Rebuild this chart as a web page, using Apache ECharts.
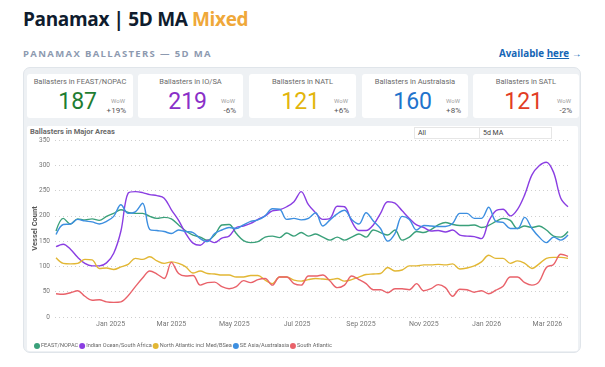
<!DOCTYPE html>
<html><head><meta charset="utf-8">
<script src="https://cdn.jsdelivr.net/npm/echarts@6/dist/echarts.min.js"></script>
<style>
html,body{margin:0;padding:0;}
body{width:605px;height:367px;background:#fff;position:relative;overflow:hidden;font-family:Roboto,"Open Sans",sans-serif;}
.abs{position:absolute;}
#title{left:23px;top:6px;font-family:"Open Sans";font-weight:700;font-size:19px;color:#0f1c2e;letter-spacing:-0.35px;white-space:nowrap;}
#title .mx{color:#efa83a;}
#sub{left:23px;top:47px;font-family:"Open Sans";font-weight:700;font-size:9.5px;color:#8d9ab0;letter-spacing:1.35px;white-space:nowrap;}
#link{left:499px;top:47px;font-family:"Open Sans";font-weight:700;font-size:9.8px;color:#1565b5;white-space:nowrap;}
#link u{text-decoration:underline;}
#panel{left:23px;top:67px;width:558px;height:286px;background:#eef1f4;border:1px solid #e0e5ea;border-radius:7px;box-sizing:border-box;}
.card{position:absolute;top:74px;height:44px;background:#fff;border-radius:3px;}
.card .lab{position:absolute;left:0;right:0;top:3px;text-align:center;font-size:7.5px;color:#6a6a6a;}
.card .val{position:absolute;right:36px;top:14px;font-size:23px;line-height:28px;font-family:Roboto;}
.card .wow{position:absolute;right:8px;top:23px;width:24px;text-align:right;font-size:6px;color:#a0a0a0;}
.card .pct{position:absolute;right:7px;top:32px;width:30px;text-align:right;font-size:8px;color:#555;}
#chartbox{left:27px;top:126px;width:551px;height:225px;background:#fff;border-radius:2px;}
#ctitle{left:30px;top:127px;font-weight:700;font-size:7.5px;color:#6a6a6a;}
.dd{position:absolute;top:127px;height:12px;border:1px solid #e6e6e6;box-sizing:border-box;font-size:7px;color:#444;padding-left:3px;line-height:11px;background:#fff;}
#chart{position:absolute;left:0;top:0;width:605px;height:367px;}
</style></head>
<body>
<div class="abs" id="title">Panamax | 5D MA <span class="mx">Mixed</span></div>
<div class="abs" id="sub">PANAMAX BALLASTERS — 5D MA</div>
<div class="abs" id="link">Available <u>here</u> →</div>
<div class="abs" id="panel"></div>
<div id="cards"></div>
<div class="abs" id="chartbox"></div>
<div class="abs" id="ctitle">Ballasters in Major Areas</div>
<div class="dd" style="left:414px;width:66px;">All</div>
<div class="dd" style="left:479px;width:73px;">5d MA</div>
<div id="chart"></div>
<script>
// ---- data ----
const seriesNames = ['FEAST/NOPAC','Indian Ocean/South Africa','North Atlantic incl Med/BSea','SE Asia/Australasia','South Atlantic'];
const kpiLabels = ['Ballasters in FEAST/NOPAC','Ballasters in IO/SA','Ballasters in NATL','Ballasters in Australasia','Ballasters in SATL'];
const kpiValues = [187, 219, 121, 160, 121];
const kpiWoW = ['+19%','-6%','+6%','+8%','-2%'];
const tickLabels = ['2025-01-01','2025-03-01','2025-05-01','2025-07-01','2025-09-01','2025-11-01','2026-01-01','2026-03-01'];
const firstDate = '2024-11-09';   // weekly observations
const stepDays = 7;
const feastNopac = [170,195,184,194,192,194,191,199,205,212,
 207,205,205,199,195,197,194,182,170,162,
 158,152,162,182,183,165,151,147,149,158,
 160,157,166,160,167,160,164,158,152,158,
 152,158,164,158,172,167,162,172,152,158,
 169,167,173,182,187,183,181,181,182,177,
 181,189,195,191,175,180,177,180,172,160,
 158,169];
const indianOcean = [139,144,134,118,106,101,101,107,126,170,
 245,248,246,242,240,235,212,191,165,146,
 142,152,147,156,160,177,180,185,193,200,
 210,212,218,228,248,222,206,193,195,219,
 218,189,171,171,182,205,228,225,210,195,
 182,177,170,171,168,172,162,160,159,155,
 189,210,213,200,213,242,281,299,306,286,
 235,218];
const northAtlantic = [117,106,105,106,114,113,96,97,94,99,
 104,116,114,119,111,106,109,106,99,87,
 91,86,85,83,83,79,79,82,82,73,
 66,79,79,73,71,74,76,75,74,76,
 71,74,79,84,85,86,98,91,93,101,
 101,103,103,104,103,105,95,97,101,109,
 122,116,116,106,111,106,96,105,116,118,
 118,116];
const seAsia = [163,183,184,193,190,188,184,189,199,222,
 205,208,225,173,171,169,165,172,169,167,
 155,149,165,172,177,175,182,189,192,200,
 214,213,193,195,192,195,206,180,192,204,
 211,193,184,206,190,175,150,165,199,193,
 172,181,180,179,179,185,205,205,195,195,
 217,189,187,175,175,197,175,158,147,158,
 152,162];
const southAtlantic = [46,45,48,52,41,33,34,30,29,30,
 42,60,77,91,85,76,108,86,81,82,
 63,68,69,60,56,60,72,68,74,76,
 63,79,79,66,63,81,81,83,71,58,
 63,81,74,66,54,54,48,56,56,54,
 66,52,56,64,58,41,55,54,49,52,
 46,53,61,79,79,68,63,70,98,104,
 124,120];

// ---- styles ----
const kpiColors = ['#1f7d33','#8a2fc8','#e2b50c','#1f74cc','#e23d25'];
const lineColors = ['#3aa07a','#8a3ee2','#e2b734','#3d8fe0','#e9626a'];
const cardX = [27,138,249,362,473];
const cardW = [106,105,107,106,106];

const cards = document.getElementById('cards');
kpiLabels.forEach((l,i)=>{
  const c = document.createElement('div');
  c.className='card'; c.style.left=cardX[i]+'px'; c.style.width=cardW[i]+'px';
  c.innerHTML = `<div class="lab">${l}</div><div class="val" style="color:${kpiColors[i]}">${kpiValues[i]}</div><div class="wow">WoW</div><div class="pct">${kpiWoW[i]}</div>`;
  cards.appendChild(c);
});

const DAY = 86400000;
function parseUTC(s){const p=s.split('-').map(Number);return Date.UTC(p[0],p[1]-1,p[2]);}
const t0 = parseUTC(firstDate);
const dates = feastNopac.map((_,i)=>t0 + i*stepDays*DAY);
const allSeries = [feastNopac, indianOcean, northAtlantic, seAsia, southAtlantic];
const MONTHS=['Jan','Feb','Mar','Apr','May','Jun','Jul','Aug','Sep','Oct','Nov','Dec'];

const chart = echarts.init(document.getElementById('chart'), null, {renderer:'canvas'});
chart.setOption({
  animation:false,
  textStyle:{fontFamily:'Roboto'},
  grid:{left:55,right:37,top:140,bottom:50,containLabel:false},
  xAxis:{
    type:'value',
    min:parseUTC('2024-11-08'), max:parseUTC('2026-03-21'),
    axisLine:{show:false}, axisTick:{show:false},
    splitLine:{show:false},
    axisLabel:{
      customValues: tickLabels.map(parseUTC),
      fontSize:7, color:'#777', margin:4, hideOverlap:false,
      formatter:v=>{const d=new Date(v);return MONTHS[d.getUTCMonth()]+' '+d.getUTCFullYear();}
    }
  },
  yAxis:{
    type:'value', min:0, max:350, interval:50,
    name:'Vessel Count', nameLocation:'middle', nameGap:16, nameMoveOverlap:false,
    nameTextStyle:{fontSize:7.5, fontWeight:'bold', color:'#555'},
    axisLine:{show:false}, axisTick:{show:false},
    axisLabel:{fontSize:6.5, color:'#777', margin:5},
    splitLine:{lineStyle:{type:[1,3], color:'#cfcfcf', width:1}}
  },
  legend:{
    left:29, top:338, icon:'circle', itemWidth:6, itemHeight:6, itemGap:1,
    textStyle:{fontSize:5.6, color:'#666', padding:[0,0,0,-4]},
    data:seriesNames
  },
  series: allSeries.map((arr,k)=>({
    name:seriesNames[k], type:'line', smooth:0.35, showSymbol:false, symbol:'none',
    lineStyle:{width:1.4, color:lineColors[k]}, itemStyle:{color:lineColors[k]},
    data: arr.map((v,i)=>[dates[i], v])
  }))
});
</script>
</body></html>
